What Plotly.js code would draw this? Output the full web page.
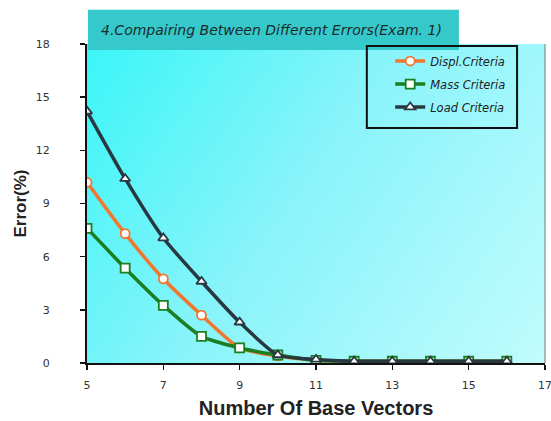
<!DOCTYPE html>
<html>
<head>
<meta charset="utf-8">
<script src="https://cdn.plot.ly/plotly-3.0.1.min.js"></script>
<style>html,body{margin:0;padding:0;background:#fff;}#chart{width:551px;height:421px;}</style>
</head>
<body>
<div id="chart"></div>
<script>
// Data
var baseVectors = [5, 6, 7, 8, 9, 10, 11, 12, 13, 14, 15, 16];
var displCriteria = [10.2, 7.3, 4.75, 2.7, 0.85, 0.4, 0.15, 0.1, 0.1, 0.1, 0.1, 0.1];
var massCriteria  = [7.6, 5.35, 3.25, 1.5, 0.85, 0.45, 0.15, 0.1, 0.1, 0.1, 0.1, 0.1];
var loadCriteria  = [14.2, 10.4, 7.05, 4.6, 2.3, 0.45, 0.2, 0.1, 0.1, 0.1, 0.1, 0.1];
var seriesNames = ['Displ.Criteria', 'Mass Criteria', 'Load Criteria'];
var xTicks = [5, 7, 9, 11, 13, 15, 17];
var yTicks = [0, 3, 6, 9, 12, 15, 18];
var chartTitle = '4.Compairing Between Different Errors(Exam. 1)';

// gradient background
var cv = document.createElement('canvas');
cv.width = 460; cv.height = 320;
var ctx = cv.getContext('2d');
var g = ctx.createLinearGradient(0, 0, 460, 320);
g.addColorStop(0, '#3af6f8');
g.addColorStop(0.45, '#88f4fa');
g.addColorStop(1, '#c2fcfe');
ctx.fillStyle = g;
ctx.fillRect(0, 0, 460, 320);
var bgUrl = cv.toDataURL('image/png');

var mk = function(sym, col) {
  return {symbol: sym, size: 9, color: '#ffffff', line: {color: col, width: 1.8}};
};
var colors = ['#f2762e', '#1b7f22', '#283840'];
var traces = [
  {x: baseVectors, y: displCriteria, name: seriesNames[0], legendgroup: 'a', mode: 'lines+markers',
   line: {color: colors[0], width: 3.5, shape: 'spline', smoothing: 0.6}, marker: mk('circle', colors[0])},
  {x: baseVectors, y: massCriteria, name: seriesNames[1], legendgroup: 'b', mode: 'lines+markers',
   line: {color: colors[1], width: 3.5, shape: 'spline', smoothing: 0.6}, marker: mk('square', colors[1])},
  {x: baseVectors, y: loadCriteria, name: seriesNames[2], legendgroup: 'c', mode: 'lines+markers',
   line: {color: colors[2], width: 3.5, shape: 'spline', smoothing: 0.6}, marker: mk('triangle-up', colors[2])}
];

var layout = {
  width: 551, height: 421,
  margin: {l: 87, r: 6, t: 44, b: 58},
  paper_bgcolor: '#ffffff',
  plot_bgcolor: 'rgba(0,0,0,0)',
  showlegend: true,
  font: {family: 'DejaVu Sans, Verdana, sans-serif', color: '#222'},
  xaxis: {
    range: [5, 17], tickvals: xTicks, ticktext: xTicks.map(String),
    showgrid: false, zeroline: false, showline: true, linecolor: '#111', linewidth: 2,
    ticks: 'outside', ticklen: 5, tickwidth: 1.5, tickcolor: '#111',
    tickfont: {size: 11, color: '#333'}, ticklabelstandoff: 6, ticklabeloverflow: 'allow',
    title: {text: 'Number Of Base Vectors', font: {family: 'Liberation Sans, Arial, sans-serif', size: 20, color: '#222', weight: 'bold'}, standoff: 10}
  },
  yaxis: {
    range: [0, 18], tickvals: yTicks, ticktext: yTicks.map(String),
    showgrid: false, zeroline: false, showline: true, linecolor: '#111', linewidth: 2,
    ticks: 'outside', ticklen: 5, tickwidth: 1.5, tickcolor: '#111',
    tickfont: {size: 11, color: '#333'}, ticklabelstandoff: 28,
    title: {text: 'Error(%)', font: {family: 'Liberation Sans, Arial, sans-serif', size: 17, color: '#222', weight: 'bold'}, standoff: 5}
  },
  legend: {
    x: 0.662, y: 0.992, xanchor: 'left', yanchor: 'top',
    bgcolor: 'rgba(0,0,0,0)', borderwidth: 0,
    font: {size: 11.5, style: 'italic', color: '#222'},
    itemwidth: 30, tracegroupgap: 4, traceorder: 'grouped'
  },
  images: [{source: bgUrl, xref: 'paper', yref: 'paper', x: 0, y: 1, sizex: 1, sizey: 1,
            sizing: 'stretch', layer: 'below', xanchor: 'left', yanchor: 'top'}],
  shapes: [
    {type: 'line', xref: 'paper', yref: 'paper', x0: 1, x1: 1, y0: 0, y1: 1, line: {color: '#777', width: 1}},
    {type: 'rect', xref: 'paper', yref: 'paper', x0: 0.002, x1: 0.812, y0: 0.981, y1: 1.107,
     fillcolor: '#35c9cc', line: {width: 0}, layer: 'above'},
    {type: 'rect', xref: 'paper', yref: 'paper', x0: 0.611, x1: 0.939, y0: 0.737, y1: 0.994,
     fillcolor: 'rgba(0,0,0,0)', line: {color: '#111', width: 2}, layer: 'above'}
  ],
  annotations: [{
    text: chartTitle, xref: 'paper', yref: 'paper', x: 0.402, y: 1.044,
    xanchor: 'center', yanchor: 'middle', showarrow: false,
    font: {size: 14, style: 'italic', color: '#1d2a2a'}
  }]
};

Plotly.newPlot('chart', traces, layout, {displayModeBar: false, staticPlot: true});
</script>
</body>
</html>
